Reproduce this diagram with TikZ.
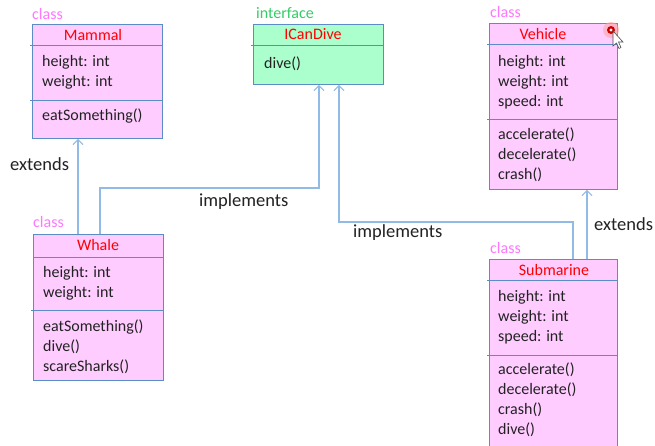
\documentclass[tikz,border=0pt]{standalone}
\usepackage{fontspec}
\setmainfont{Carlito}
\usetikzlibrary{arrows.meta,calc}

\definecolor{boxfill}{HTML}{FFCCFF}
\definecolor{ifacefill}{HTML}{AAFFCC}
\definecolor{boxedge}{HTML}{5B8CC6}
\definecolor{linkblue}{HTML}{92BAE6}
\definecolor{namered}{HTML}{FF0000}
\definecolor{stereopink}{HTML}{FF77FF}
\definecolor{stereogreen}{HTML}{33CC66}
\definecolor{bodytext}{HTML}{222222}

\tikzset{
  umlbox/.style={draw=boxedge, line width=0.9pt, fill=boxfill, anchor=north west, inner sep=0pt},
  ifacebox/.style={umlbox, fill=ifacefill},
  divider/.style={draw=boxedge, line width=0.9pt},
  member/.style={font=\fontsize{16}{20}\selectfont, text=bodytext, anchor=west, inner sep=0pt,
                 text height=0.72em, text depth=0.22em, yshift=-3pt},
  clsname/.style={member, text=namered, anchor=center},
  stereo/.style={member, text=stereopink},
  stereoi/.style={member, text=stereogreen},
  relname/.style={member, font=\fontsize{18.5}{22}\selectfont},
  conn/.style={draw=linkblue, line width=1.2pt, -{Straight Barb[length=5pt,width=10pt,line width=1pt]}},
}

\begin{document}
\begin{tikzpicture}[x=1pt,y=-1pt]
\useasboundingbox (0,0) rectangle (655,445);
\clip (0,0) rectangle (655,445);
\fill[white] (0,0) rectangle (655,445);

% ---- Mammal
\node[stereo] (mammalst) at (32,14) {class};
\node[umlbox, minimum width=130pt, minimum height=114pt] (mammal) at (32,24) {};
\draw[divider] (30,45) -- (162,45);
\draw[divider] (30,100) -- (162,100);
\node[clsname] (mammalname) at (93,35) {Mammal};
\node[member] (mammal1) at (42,61) {height: int};
\node[member] (mammal2) at (42,81) {weight: int};
\node[member] (mammal3) at (42,115) {eatSomething()};

% ---- ICanDive
\node[stereoi] (icanst) at (256,13) {interface};
\node[ifacebox, minimum width=130pt, minimum height=60pt] (icandive) at (253,24) {};
\draw[divider] (251,45) -- (383,45);
\node[clsname] (icanname) at (313,34) {ICanDive};
\node[member] (ican1) at (264,63) {dive()};

% ---- Vehicle
\node[stereo] (vehst) at (490,12) {class};
\node[umlbox, minimum width=128pt, minimum height=166pt] (vehicle) at (489,23) {};
\draw[divider] (487,44) -- (617,44);
\draw[divider] (487,119) -- (617,119);
\node[clsname] (vehname) at (543,34) {Vehicle};
\node[member] (veh1) at (498,61) {height: int};
\node[member] (veh2) at (498,81) {weight: int};
\node[member] (veh3) at (498,101) {speed: int};
\node[member] (veh4) at (498,134) {accelerate()};
\node[member] (veh5) at (498,154) {decelerate()};
\node[member] (veh6) at (498,174) {crash()};

% ---- Whale
\node[stereo] (whalest) at (33,222) {class};
\node[umlbox, minimum width=130pt, minimum height=146pt] (whale) at (33,234) {};
\draw[divider] (33,257) -- (163,257);
\draw[divider] (31,310) -- (163,310);
\node[clsname] (whalename) at (98,245) {Whale};
\node[member] (whale1) at (43,272) {height: int};
\node[member] (whale2) at (43,292) {weight: int};
\node[member] (whale3) at (43,326) {eatSomething()};
\node[member] (whale4) at (43,346) {dive()};
\node[member] (whale5) at (43,366) {scareSharks()};

% ---- Submarine (runs past the lower edge)
\node[stereo] (subst) at (490,248) {class};
\node[umlbox, minimum width=128pt, minimum height=200pt] (submarine) at (489,259) {};
\draw[divider] (487,280) -- (617,280);
\draw[divider] (487,355) -- (617,355);
\node[clsname] (subname) at (554,270) {Submarine};
\node[member] (sub1) at (498,296) {height: int};
\node[member] (sub2) at (498,316) {weight: int};
\node[member] (sub3) at (498,336) {speed: int};
\node[member] (sub4) at (498,369) {accelerate()};
\node[member] (sub5) at (498,389) {decelerate()};
\node[member] (sub6) at (498,409) {crash()};
\node[member] (sub7) at (498,429) {dive()};

% ---- relations
\draw[conn] ($(whale.north west)+(45,0)$) -- ($(mammal.south west)+(46,0)$);
\draw[conn] ($(whale.north west)+(67,0)$) -- ++(0,-46) -| ($(icandive.south west)+(66,0)$);
\draw[conn] ($(submarine.north west)+(84,0)$) -- ++(0,-37) -| ($(icandive.south west)+(86,0)$);
\draw[conn] ($(submarine.north west)+(98,0)$) -- ($(vehicle.south west)+(98,0)$);

\node[relname] (ext1) at (10,165) {extends};
\node[relname] (impl1) at (199,201) {implements};
\node[relname] (impl2) at (353,232) {implements};
\node[relname] (ext2) at (594,225) {extends};

% ---- pointer highlight
\fill[red!35, opacity=0.6] (611,30) circle (8);
\fill[red!80!black] (611,30) circle (4);
\fill[white] (611,30) circle (1.6);
\draw[fill=white, draw=black!70, line width=0.6pt]
  (613,31) -- (613,46) -- (616.5,43) -- (619,48.5) -- (621,47.5) -- (618.5,42) -- (623,42) -- cycle;
\end{tikzpicture}
\end{document}
